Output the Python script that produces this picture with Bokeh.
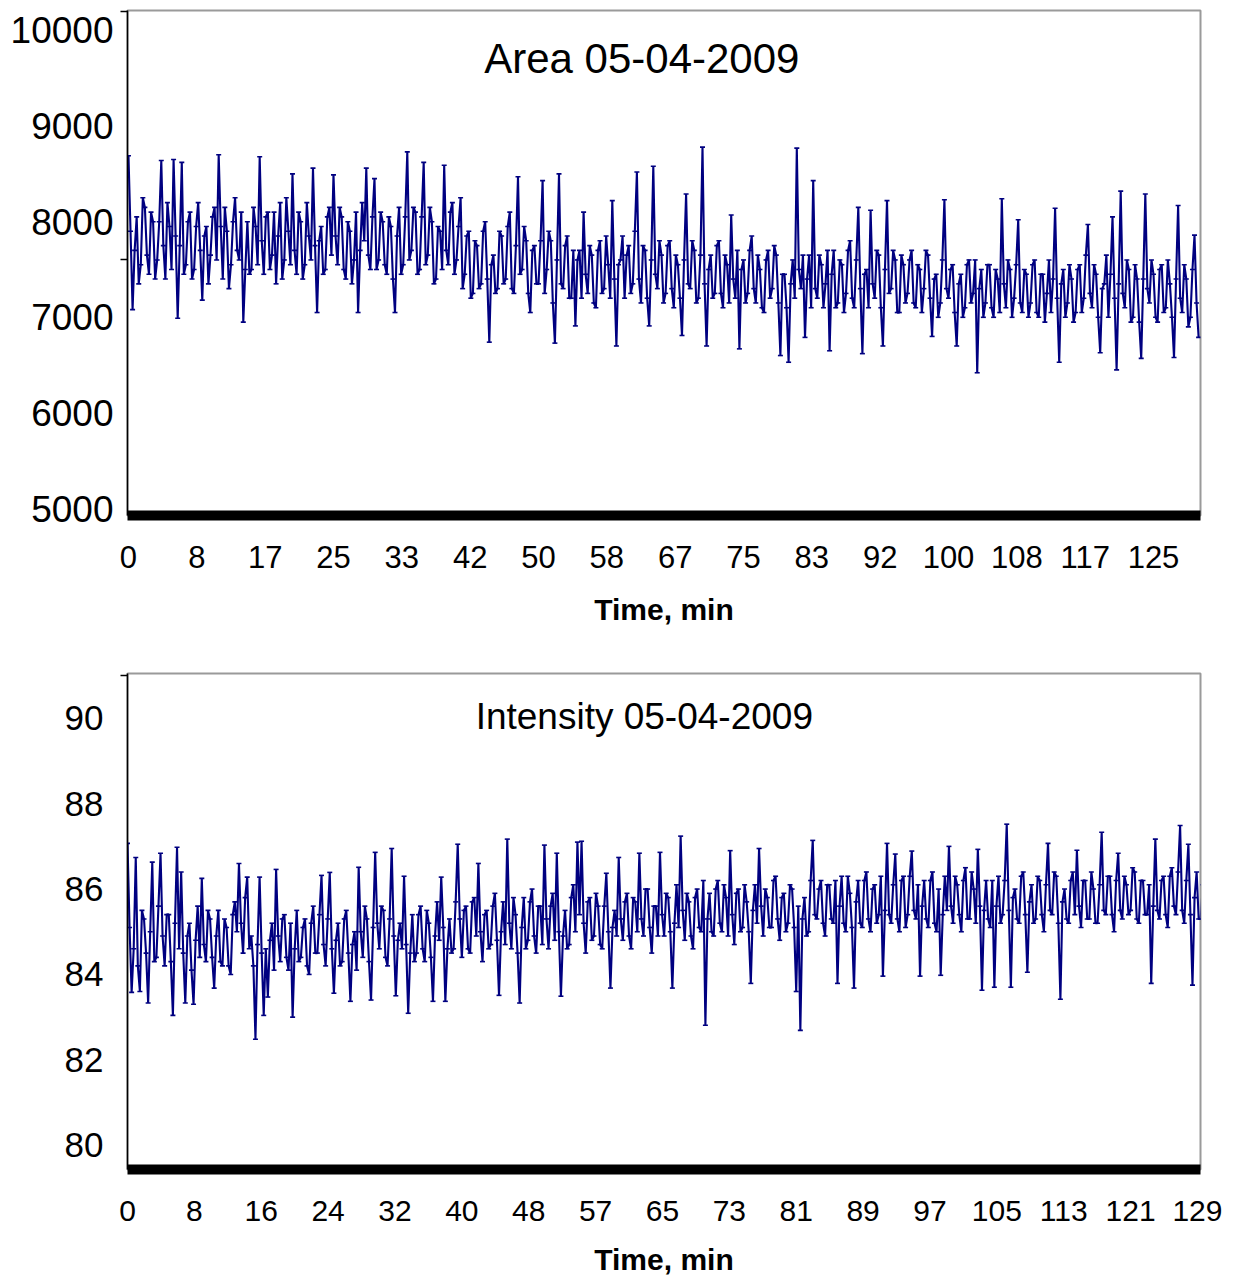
import numpy as np
from bokeh.plotting import figure
from bokeh.models import FixedTicker, Label, ColumnDataSource, Range1d
from bokeh.layouts import column
from bokeh.embed import file_html
from bokeh.resources import INLINE

# ---------------- data ----------------
SAMPLE_STEP_MIN = 0.25  # minutes between plotted samples

area = [
    8690, 7900, 7080, 7700, 8050, 7350, 7550, 8250, 8150, 7650, 7450, 8100, 8000, 7400, 7600, 8000, 8640, 7750, 7400, 8200,
    7950, 7500, 8650, 7850, 6990, 7750, 8620, 7450, 7550, 8000, 8100, 7400, 7500, 7950, 8200, 7700, 7180, 7850, 7950, 7350,
    7650, 8050, 8150, 7600, 8700, 7950, 7400, 8150, 7900, 7300, 7550, 8000, 8250, 7700, 7600, 8100, 6950, 7500, 8000, 7450,
    7500, 8150, 7950, 7550, 8680, 7800, 7450, 8050, 8100, 7500, 7650, 8100, 7350, 7850, 8200, 7400, 7600, 8250, 7900, 7550,
    8500, 7700, 7450, 8100, 8000, 7400, 7550, 8200, 7850, 7600, 8560, 7750, 7050, 7800, 7950, 7450, 7500, 8050, 8150, 7650,
    8490, 7850, 7550, 8150, 8050, 7500, 7400, 8000, 7900, 7350, 7600, 8100, 7050, 7700, 8200, 7800, 8560, 7650, 7500, 8050,
    8450, 7500, 7600, 8100, 8000, 7550, 7450, 8050, 7950, 7400, 7050, 7850, 8150, 7450, 7550, 8050, 8730, 7600, 7700, 8150,
    8100, 7450, 7500, 8050, 8620, 7550, 7650, 8150, 8000, 7350, 7400, 7950, 7900, 7500, 8590, 7700, 7550, 8100, 8200, 7450,
    7600, 7950, 8250, 7300, 7450, 7850, 7900, 7200, 7250, 7800, 7750, 7300, 7350, 7900, 8000, 7400, 6740, 7550, 7650, 7250,
    7300, 7900, 7850, 7350, 7400, 7950, 8100, 7300, 7250, 7750, 8470, 7450, 7500, 7950, 7800, 7250, 7050, 7700, 7750, 7350,
    7350, 7800, 8430, 7250, 7500, 7900, 7800, 7150, 6730, 7600, 8500, 7350, 7300, 7750, 7850, 7200, 7200, 7700, 6910, 7600,
    7700, 7200, 8100, 7450, 7250, 7750, 7650, 7150, 7100, 7700, 7800, 7250, 7300, 7850, 7550, 7200, 8220, 7400, 6700, 7550,
    7600, 7850, 7200, 7650, 7750, 7250, 7350, 7900, 8520, 7400, 7150, 7750, 7700, 7200, 6910, 7600, 8580, 7450, 7300, 7800,
    7650, 7150, 7250, 7750, 7800, 7300, 7100, 7650, 7550, 7200, 6810, 7600, 8290, 7350, 7300, 7800, 7700, 7150, 7200, 7650,
    8780, 7350, 6700, 7500, 7650, 7200, 7250, 7750, 7800, 7250, 7100, 7650, 7550, 7150, 8070, 7400, 7200, 7700, 6670, 7500,
    7600, 7150, 7250, 7700, 7850, 7300, 7150, 7650, 7500, 7100, 7050, 7600, 7700, 7200, 7300, 7750, 7650, 7150, 6600, 7450,
    7450, 7100, 6530, 7350, 7600, 7200, 8770, 7500, 7300, 7650, 6790, 7400, 7650, 7100, 8430, 7300, 7200, 7650, 7550, 7100,
    7350, 7700, 6650, 7450, 7700, 7100, 7150, 7600, 7550, 7050, 7250, 7700, 7800, 7200, 7100, 7600, 8150, 7300, 6620, 7450,
    7500, 7100, 8120, 7350, 7200, 7700, 7650, 7100, 6700, 7500, 8220, 7250, 7300, 7700, 7600, 7050, 7050, 7650, 7550, 7150,
    7250, 7600, 7700, 7150, 7100, 7550, 7500, 7050, 7300, 7700, 7650, 7200, 6800, 7400, 7450, 7000, 7150, 7600, 8230, 7300,
    7200, 7500, 7550, 7050, 6700, 7350, 7450, 7000, 7100, 7550, 7600, 7150, 7250, 7600, 6420, 7300, 7500, 7000, 7150, 7550,
    7550, 7100, 7000, 7500, 7400, 7050, 8240, 7350, 7100, 7600, 7500, 7000, 7200, 7550, 8020, 7150, 7050, 7500, 7450, 7000,
    7150, 7550, 7600, 7050, 7000, 7450, 7450, 6950, 7250, 7600, 7050, 7400, 8140, 7200, 6530, 7350, 7500, 7000, 7150, 7550,
    7400, 6950, 7050, 7500, 7550, 7050, 7200, 7650, 7970, 7250, 7100, 7550, 7450, 7000, 6630, 7300, 7350, 7650, 7000, 7450,
    8050, 7200, 6450, 7350, 8320, 7250, 7100, 7600, 7500, 6950, 7000, 7550, 7400, 6950, 6570, 7400, 8290, 7300, 7150, 7600,
    7450, 7000, 6950, 7500, 7550, 7050, 7100, 7600, 7350, 7000, 6580, 7400, 8170, 7200, 7050, 7550, 7400, 6900, 7000, 7500,
    7860, 7150, 6790,
]

intensity = [
    87.07, 85.1, 83.58, 84.6, 86.74, 84.2, 83.60, 85.5, 85.30, 84.5, 83.33, 85.0, 86.63, 84.3, 84.40, 85.6, 86.84, 84.9, 84.20, 85.4,
    85.40, 84.3, 83.04, 85.2, 86.98, 84.6, 86.40, 84.5, 83.33, 84.9, 85.20, 84.1, 83.30, 84.8, 85.60, 84.4, 86.25, 84.7, 84.30, 85.5,
    85.30, 84.4, 83.68, 84.9, 85.50, 84.3, 84.20, 85.3, 85.10, 84.2, 84.00, 85.4, 85.70, 85.0, 86.60, 85.2, 84.50, 85.8, 86.28, 84.6,
    84.90, 84.2, 82.48, 84.7, 86.28, 84.5, 83.04, 84.6, 83.47, 84.8, 85.20, 84.1, 86.46, 84.9, 84.30, 85.3, 85.40, 84.4, 84.10, 85.2,
    83.00, 84.6, 85.50, 84.3, 84.40, 85.1, 85.30, 84.2, 84.00, 85.2, 85.60, 84.5, 84.50, 85.4, 86.32, 84.7, 84.20, 85.3, 86.39, 84.6,
    83.56, 84.8, 85.20, 84.2, 84.30, 85.3, 85.50, 84.5, 83.37, 84.7, 85.00, 84.1, 86.51, 85.0, 84.40, 85.6, 85.30, 84.3, 83.40, 85.1,
    86.86, 85.2, 84.60, 85.6, 85.50, 84.4, 84.20, 85.3, 86.95, 84.9, 83.50, 84.8, 85.20, 84.6, 86.30, 84.7, 83.09, 84.5, 85.40, 84.3,
    84.50, 85.4, 85.60, 84.6, 84.30, 85.5, 85.20, 84.4, 83.37, 84.9, 85.70, 84.8, 86.28, 85.1, 83.37, 84.6, 85.30, 84.5, 84.60, 85.7,
    87.05, 85.3, 84.40, 85.5, 85.60, 84.6, 84.50, 85.7, 85.80, 84.9, 86.60, 85.0, 84.30, 85.4, 85.50, 84.6, 84.70, 85.6, 85.90, 84.8,
    83.51, 85.0, 85.70, 84.7, 87.17, 85.2, 84.60, 85.8, 85.40, 84.5, 83.33, 85.1, 85.80, 84.6, 84.80, 85.7, 86.00, 84.9, 84.50, 85.6,
    85.60, 84.7, 87.03, 85.3, 84.60, 85.6, 85.90, 84.8, 86.84, 85.0, 83.49, 84.9, 85.50, 84.6, 84.70, 85.8, 86.10, 85.0, 87.10, 85.4,
    87.12, 85.2, 84.50, 85.7, 85.80, 84.8, 84.90, 85.9, 85.60, 84.7, 84.60, 85.6, 86.37, 85.0, 83.68, 85.1, 85.50, 84.9, 86.74, 85.3,
    84.80, 85.7, 85.90, 84.9, 84.60, 85.8, 85.70, 85.0, 86.84, 85.3, 84.90, 86.0, 86.00, 85.1, 84.50, 85.6, 85.60, 84.9, 86.86, 85.4,
    84.90, 85.9, 85.80, 85.0, 83.68, 85.2, 86.10, 85.1, 87.24, 85.5, 84.80, 85.9, 85.70, 84.9, 84.60, 85.8, 86.00, 85.1, 85.00, 86.2,
    82.81, 85.3, 85.90, 85.0, 84.90, 86.0, 86.20, 85.2, 85.00, 86.1, 85.80, 84.9, 86.90, 85.4, 84.70, 85.9, 86.00, 85.0, 85.10, 86.1,
    85.70, 85.0, 83.79, 85.5, 86.10, 85.2, 86.95, 85.6, 84.90, 86.0, 85.80, 85.1, 85.10, 86.2, 86.30, 85.3, 84.80, 85.8, 85.90, 85.0,
    85.20, 86.1, 86.00, 85.1, 83.60, 85.6, 82.69, 85.3, 85.80, 84.9, 85.00, 86.2, 87.14, 85.4, 85.30, 86.0, 86.20, 85.2, 84.90, 86.1,
    86.10, 85.3, 85.20, 86.2, 83.79, 85.6, 86.30, 85.2, 85.00, 86.3, 85.90, 85.1, 83.68, 85.7, 86.20, 85.2, 85.10, 86.2, 86.40, 85.3,
    85.00, 86.0, 86.10, 85.2, 85.40, 86.3, 83.96, 85.5, 87.07, 85.4, 85.20, 86.1, 86.82, 85.3, 85.00, 86.2, 86.30, 85.1, 85.40, 86.3,
    86.89, 85.5, 85.30, 86.1, 83.96, 85.6, 86.20, 85.3, 85.10, 86.2, 86.40, 85.2, 85.00, 86.0, 83.98, 85.4, 86.30, 85.5, 87.00, 85.6,
    85.20, 86.3, 86.10, 85.4, 85.00, 86.2, 86.50, 85.3, 85.30, 86.4, 86.00, 85.2, 86.93, 85.6, 83.63, 85.5, 86.20, 85.3, 85.10, 86.2,
    83.70, 85.6, 86.30, 85.2, 85.40, 86.2, 87.52, 85.5, 83.70, 85.8, 86.00, 85.3, 85.20, 86.3, 86.40, 85.4, 84.05, 85.7, 86.10, 85.2,
    85.30, 86.3, 86.20, 85.4, 85.00, 86.1, 87.07, 85.5, 85.40, 86.4, 86.30, 85.2, 83.42, 85.7, 86.00, 85.3, 85.20, 86.2, 86.40, 85.4,
    86.91, 85.6, 85.10, 86.2, 86.20, 85.3, 85.30, 86.4, 86.00, 85.2, 85.20, 86.1, 87.33, 85.5, 85.40, 86.3, 86.30, 85.4, 85.00, 86.2,
    86.84, 85.5, 85.30, 86.3, 86.10, 85.4, 85.50, 86.5, 86.40, 85.3, 85.20, 86.2, 86.20, 85.4, 85.40, 86.1, 83.79, 85.6, 87.17, 85.5,
    85.30, 86.2, 86.30, 85.4, 85.10, 86.3, 86.50, 85.6, 85.40, 86.4, 87.49, 85.5, 85.20, 86.2, 87.05, 85.4, 83.75, 85.8, 86.40, 85.3,
    85.30, 86.1, 86.00,
]

area_time = [i * SAMPLE_STEP_MIN for i in range(len(area))]
intensity_time = [i * SAMPLE_STEP_MIN for i in range(len(intensity))]

area_tick_values = [0, 25 / 3, 50 / 3, 25, 100 / 3, 125 / 3, 50, 175 / 3,
                    200 / 3, 75, 250 / 3, 275 / 3, 100, 325 / 3, 350 / 3, 125]
area_tick_labels = ["0", "8", "17", "25", "33", "42", "50", "58", "67", "75",
                    "83", "92", "100", "108", "117", "125"]
area_y_ticks = [5000, 6000, 7000, 8000, 9000, 10000]

int_tick_values = [0, 8.1, 16.2, 24.3, 32.4, 40.5, 48.6, 56.7, 64.8, 72.9,
                   81.0, 89.1, 97.2, 105.3, 113.4, 121.5, 129.6]
int_tick_labels = ["0", "8", "16", "24", "32", "40", "48", "57", "65", "73",
                   "81", "89", "97", "105", "113", "121", "129"]
int_y_ticks = [80, 82, 84, 86, 88, 90]

area_title = "Area 05-04-2009"
int_title = "Intensity 05-04-2009"
x_title = "Time, min"

# ---------------- styling ----------------
FONT = "Liberation Sans"
NAVY = "#000080"


def make_panel(t, v, x_rng, y_rng, xticks, xlabels, yticks, yminor, title,
               title_xy, title_size, width, height, borders, ylab_size,
               xlab_size, ystand, xstand, xtitle_stand):
    p = figure(width=width, height=height, x_range=Range1d(*x_rng),
               y_range=Range1d(*y_rng), output_backend="svg",
               toolbar_location=None,
               min_border_left=borders[0], min_border_right=borders[1],
               min_border_top=borders[2], min_border_bottom=borders[3])
    p.background_fill_color = "white"
    p.border_fill_color = "white"
    p.outline_line_color = "#9a9a9a"
    p.outline_line_width = 2
    p.xgrid.visible = False
    p.ygrid.visible = False

    src = ColumnDataSource(dict(t=t, v=v))
    p.line("t", "v", source=src, line_color=NAVY, line_width=2.1)
    p.scatter("t", "v", source=src, marker="dash", size=5,
              line_color=NAVY, line_width=1.6)

    # y axis
    ya = p.yaxis[0]
    ya.ticker = FixedTicker(ticks=yticks, minor_ticks=yminor)
    ya.major_tick_out = 0
    ya.major_tick_in = 0
    ya.minor_tick_out = 7
    ya.minor_tick_in = 0
    ya.minor_tick_line_color = "black"
    ya.minor_tick_line_width = 1.5
    ya.axis_line_color = "black"
    ya.axis_line_width = 1.5
    ya.major_label_text_font = FONT
    ya.major_label_text_font_size = f"{ylab_size}px"
    ya.major_label_text_color = "black"
    ya.major_label_standoff = ystand

    # x axis
    xa = p.xaxis[0]
    xa.ticker = FixedTicker(ticks=xticks)
    xa.major_label_overrides = {float(k): s for k, s in zip(xticks, xlabels)}
    xa.major_tick_out = 0
    xa.major_tick_in = 0
    xa.minor_tick_line_color = None
    xa.axis_line_color = "black"
    xa.axis_line_width = 10
    xa.major_label_text_font = FONT
    xa.major_label_text_font_size = f"{xlab_size}px"
    xa.major_label_text_color = "black"
    xa.major_label_standoff = xstand
    xa.axis_label = x_title
    xa.axis_label_text_font = FONT
    xa.axis_label_text_font_size = "30px"
    xa.axis_label_text_font_style = "bold"
    xa.axis_label_text_color = "black"
    xa.axis_label_standoff = xtitle_stand

    p.add_layout(Label(x=title_xy[0], y=title_xy[1], text=title,
                       text_font=FONT, text_font_size=f"{title_size}px",
                       text_color="black", text_align="center",
                       text_baseline="middle"))
    return p


p1 = make_panel(area_time, area, (-0.12, 130.73), (4927, 10209),
                area_tick_values, area_tick_labels, area_y_ticks,
                [7605, 10200], area_title, (62.6, 9707), 42,
                1240, 645, (127, 40, 10, 130), 37, 31, 7, 30, 22)

p2 = make_panel(intensity_time, intensity, (0, 129.97), (79.43, 91.05),
                int_tick_values, int_tick_labels, int_y_ticks,
                [91.0], int_title, (62.6, 90.05), 37,
                1240, 636, (127, 40, 28, 112), 35, 30, 17, 31, 19)

layout = column(p1, p2, spacing=0)

open("out.html", "w").write(file_html(layout, INLINE))
